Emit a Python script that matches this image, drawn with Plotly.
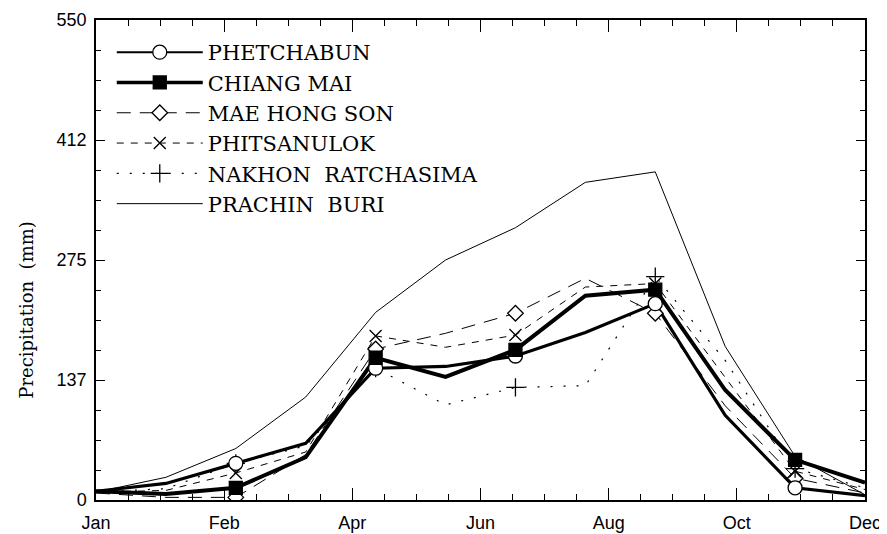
import numpy as np
import plotly.graph_objects as go

# ---------------- data ----------------
MONTHS = ["Jan", "Feb", "Mar", "Apr", "May", "Jun",
          "Jul", "Aug", "Sep", "Oct", "Nov", "Dec"]
MARKER_MONTHS = ["Mar", "May", "Jul", "Sep", "Nov"]
TICK_LABELS = ["Jan", "Feb", "Apr", "Jun", "Aug", "Oct", "Dec"]
Y_TICK_LABELS = ["0", "137", "275", "412", "550"]
Y_MAX = 550

PHETCHABUN = [10, 19, 42, 65, 151, 153, 165, 192, 225, 97, 14, 5]
CHIANG_MAI = [10, 7, 14, 49, 163, 141, 172, 234, 241, 126, 46, 20]
MAE_HONG_SON = [8, 3, 3, 52, 173, 191, 214, 254, 214, 108, 25, 8]
PHITSANULOK = [9, 11, 31, 55, 188, 175, 189, 244, 248, 140, 33, 12]
NAKHON_RATCHASIMA = [9, 13, 42, 62, 151, 109, 129, 131, 256, 160, 36, 14]
PRACHIN_BURI = [9, 26, 59, 118, 215, 275, 312, 364, 376, 176, 50, 6]

SERIES_NAMES = ["PHETCHABUN", "CHIANG MAI", "MAE HONG SON",
                "PHITSANULOK", "NAKHON  RATCHASIMA", "PRACHIN  BURI"]

# ---------------- styles ----------------
STYLES = {
    "PHETCHABUN": dict(width=3.2, lw=2, dash="solid", symbol="circle", size=14, fill="white"),
    "CHIANG MAI": dict(width=4, lw=3.5, dash="solid", symbol="square", size=13, fill="black"),
    "MAE HONG SON": dict(width=1, lw=1, dash="14px,9px", symbol="diamond", size=12, fill="white"),
    "PHITSANULOK": dict(width=1, lw=1, dash="7px,7px", symbol="x-thin", size=12, fill="white"),
    "NAKHON  RATCHASIMA": dict(width=1.2, lw=1.2, dash="2px,11px", symbol="cross-thin", size=13, fill="white"),
    "PRACHIN  BURI": dict(width=1, lw=1, dash="solid", symbol=None, size=0, fill="white"),
}

values = [PHETCHABUN, CHIANG_MAI, MAE_HONG_SON, PHITSANULOK,
          NAKHON_RATCHASIMA, PRACHIN_BURI]

x_num = np.arange(1, len(MONTHS) + 1)
month_pos = {m: i + 1 for i, m in enumerate(MONTHS)}

fig = go.Figure()

# lines (draw thin Prachin Buri first)
draw_order = [5, 2, 3, 4, 0, 1]
for i in draw_order:
    name = SERIES_NAMES[i]
    st = STYLES[name]
    fig.add_trace(go.Scatter(
        x=x_num, y=values[i], mode="lines", showlegend=False,
        line=dict(color="black", width=st["width"], dash=st["dash"]),
        hoverinfo="skip"))

# markers on selected months
for i in draw_order:
    name = SERIES_NAMES[i]
    st = STYLES[name]
    if st["symbol"] is None:
        continue
    mx = [month_pos[m] for m in MARKER_MONTHS]
    my = [values[i][month_pos[m] - 1] for m in MARKER_MONTHS]
    fig.add_trace(go.Scatter(
        x=mx, y=my, mode="markers", showlegend=False,
        marker=dict(symbol=st["symbol"], size=st["size"], color=st["fill"],
                    line=dict(color="black", width=1.3)),
        hoverinfo="skip"))

# legend entries
for name in SERIES_NAMES:
    st = STYLES[name]
    if st["symbol"] is None:
        fig.add_trace(go.Scatter(
            x=[None], y=[None], mode="lines", name=name,
            line=dict(color="black", width=st["lw"], dash=st["dash"])))
    else:
        fig.add_trace(go.Scatter(
            x=[None], y=[None], mode="lines+markers", name=name,
            line=dict(color="black", width=st["lw"], dash=st["dash"]),
            marker=dict(symbol=st["symbol"], size=st["size"], color=st["fill"],
                        line=dict(color="black", width=1.3))))

x_major = np.linspace(1, len(MONTHS), len(TICK_LABELS))
x_minor = np.linspace(1, len(MONTHS), (len(TICK_LABELS) - 1) * 4 + 1)
y_major = np.linspace(0, Y_MAX, len(Y_TICK_LABELS))
y_minor = np.linspace(0, Y_MAX, (len(Y_TICK_LABELS) - 1) * 4 + 1)

tickfont = dict(family="Liberation Sans", size=18, color="black")

# the page body has an 8px margin; the figure is sized/offset to compensate
fig.update_layout(
    width=879, height=526,
    margin=dict(l=88, r=22, t=12, b=34),
    paper_bgcolor="white", plot_bgcolor="white",
    showlegend=True,
    legend=dict(x=0.0205, y=0.975, xanchor="left", yanchor="top",
                bgcolor="rgba(0,0,0,0)", borderwidth=0,
                font=dict(family="DejaVu Serif", size=21, color="black"),
                itemwidth=86, tracegroupgap=0),
    xaxis=dict(range=[1, len(MONTHS)], tickvals=x_major, ticktext=TICK_LABELS,
               ticks="inside", ticklen=12, tickwidth=1.2, tickcolor="black",
               showline=True, linecolor="black", linewidth=1.5, mirror="ticks",
               showgrid=False, zeroline=False, tickfont=tickfont,
               ticklabelstandoff=6, automargin=False,
               minor=dict(tickvals=x_minor, ticks="inside", ticklen=6,
                          tickcolor="black", tickwidth=1, showgrid=False)),
    yaxis=dict(range=[0, Y_MAX], tickvals=y_major, ticktext=Y_TICK_LABELS,
               ticks="inside", ticklen=9, tickwidth=1.2, tickcolor="black",
               showline=True, linecolor="black", linewidth=1.5, mirror="ticks",
               showgrid=False, zeroline=False, tickfont=tickfont,
               ticklabelstandoff=4, automargin=False,
               minor=dict(tickvals=y_minor, ticks="inside", ticklen=5,
                          tickcolor="black", tickwidth=1, showgrid=False)),
    annotations=[dict(text="Precipitation  (mm)", textangle=-90,
                      xref="paper", yref="paper", x=-0.09, y=0.396,
                      xanchor="center", yanchor="middle", showarrow=False,
                      font=dict(family="DejaVu Serif", size=18, color="black"))],
)

fig.write_html("out.html")
